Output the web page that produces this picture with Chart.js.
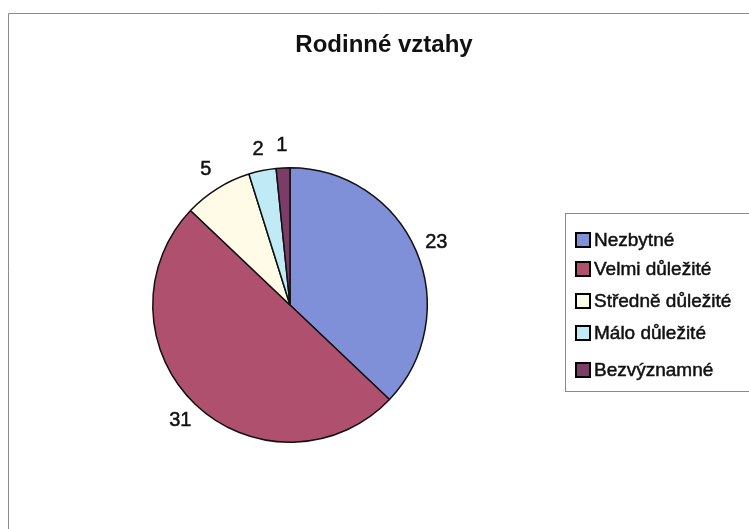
<!DOCTYPE html>
<html>
<head>
<meta charset="utf-8">
<script src="https://cdn.jsdelivr.net/npm/chart.js@4/dist/chart.umd.min.js"></script>
<style>
  html, body { margin: 0; padding: 0; background: #fff; }
  #wrap { position: relative; width: 749px; height: 529px; }
</style>
</head>
<body>
<div id="wrap"><canvas id="c" width="749" height="529"></canvas></div>
<script>
const chartTitle = 'Rodinné vztahy';
const categories = ['Nezbytné', 'Velmi důležité', 'Středně důležité', 'Málo důležité', 'Bezvýznamné'];
const counts = [23, 31, 5, 2, 1];
const sliceColors = ['#7f8fd8', '#b0506f', '#fffbe6', '#bfeaf6', '#7b3c68'];

const FONT = 'Arial, "Liberation Sans", sans-serif';

// text with a hairline outline so it reads a little heavier
function inkText(ctx, text, x, y) {
  ctx.fillText(text, x, y);
  ctx.lineWidth = 0.5;
  ctx.strokeStyle = ctx.fillStyle;
  ctx.strokeText(text, x, y);
}

// Frame, title, outside value labels and the boxed legend
const decorations = {
  id: 'decorations',
  beforeDraw(chart) {
    const ctx = chart.ctx;
    ctx.save();
    ctx.fillStyle = '#fff';
    ctx.fillRect(0, 0, chart.width, chart.height);
    ctx.strokeStyle = '#8a8a8a';
    ctx.lineWidth = 1;
    ctx.beginPath();
    ctx.moveTo(8.5, 529);
    ctx.lineTo(8.5, 13.5);
    ctx.lineTo(749, 13.5);
    ctx.stroke();
    ctx.restore();
  },
  afterDraw(chart) {
    const ctx = chart.ctx;
    ctx.save();
    // title
    ctx.fillStyle = '#111';
    ctx.font = 'bold 24px ' + FONT;
    ctx.textAlign = 'center';
    ctx.textBaseline = 'middle';
    ctx.fillText(chartTitle, 384, 45);

    // value labels just outside each slice
    const meta = chart.getDatasetMeta(0);
    ctx.font = '20px ' + FONT;
    meta.data.forEach((arc, i) => {
      const p = arc.getProps(['x', 'y', 'startAngle', 'endAngle', 'outerRadius'], true);
      const mid = (p.startAngle + p.endAngle) / 2;
      const r = p.outerRadius + 22;
      inkText(ctx, String(counts[i]), p.x + Math.cos(mid) * r, p.y + Math.sin(mid) * r);
    });

    // legend
    const lx = 565, ly = 213, lw = 190, lh = 178;
    ctx.strokeStyle = '#8a8a8a';
    ctx.lineWidth = 1;
    ctx.strokeRect(lx + 0.5, ly + 0.5, lw, lh);
    ctx.font = '19px ' + FONT;
    ctx.textAlign = 'left';
    const rows = [240, 269, 301, 333, 370];
    categories.forEach((name, i) => {
      const y = rows[i];
      ctx.fillStyle = sliceColors[i];
      ctx.fillRect(576, y - 7, 14, 14);
      ctx.strokeStyle = '#000';
      ctx.lineWidth = 2;
      ctx.strokeRect(576, y - 7, 14, 14);
      ctx.fillStyle = '#111';
      inkText(ctx, name, 594, y + 1);
    });
    ctx.restore();
  }
};

new Chart(document.getElementById('c'), {
  type: 'pie',
  data: {
    labels: categories,
    datasets: [{
      data: counts,
      backgroundColor: sliceColors,
      borderColor: '#111',
      borderWidth: 1.5
    }]
  },
  options: {
    responsive: false,
    animation: false,
    layout: { padding: { left: 152, right: 321, top: 167, bottom: 86 } },
    plugins: {
      legend: { display: false },
      title: { display: false },
      tooltip: { enabled: false }
    }
  },
  plugins: [decorations]
});
</script>
</body>
</html>
